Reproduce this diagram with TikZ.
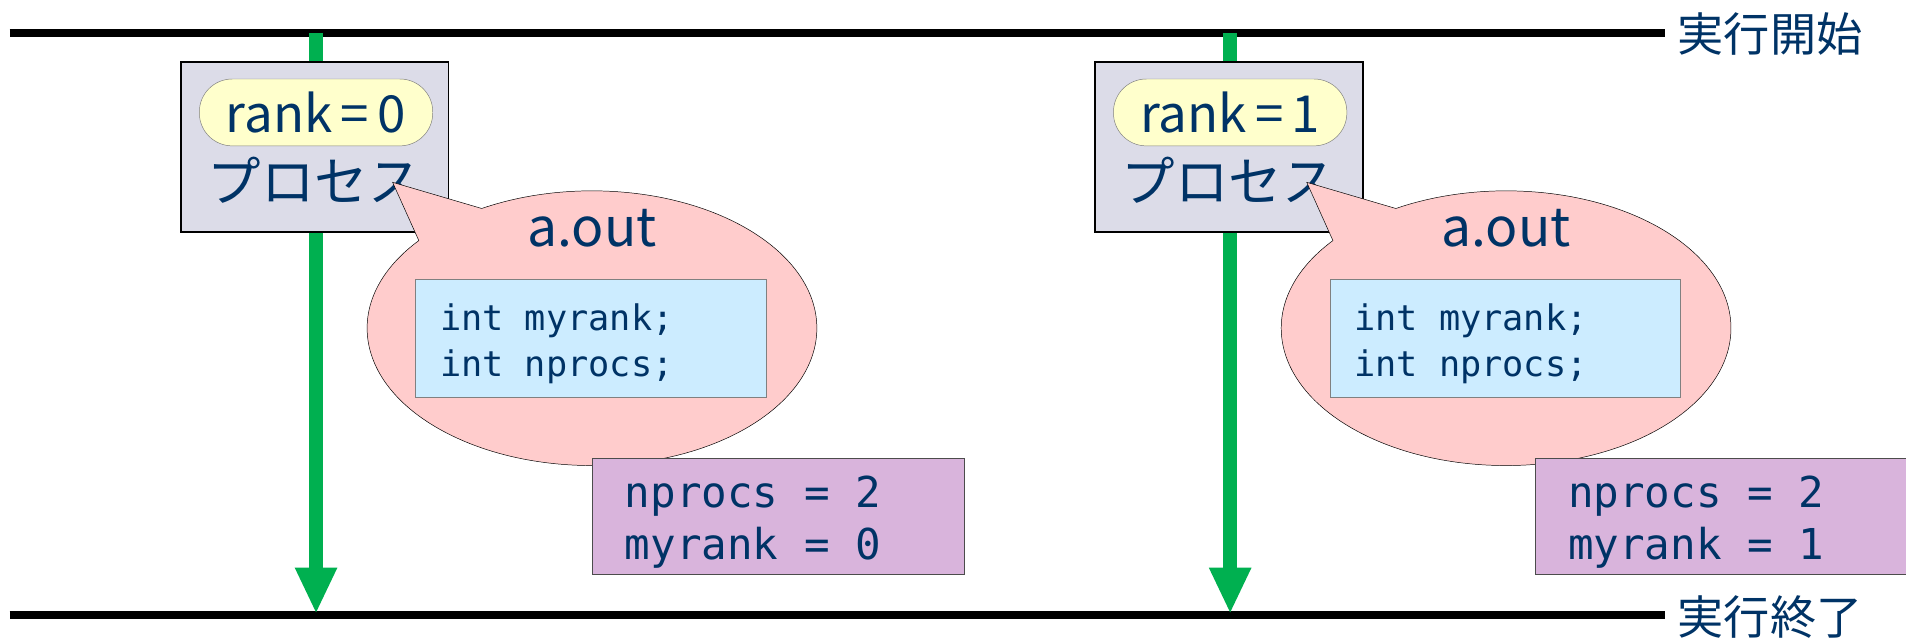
\documentclass[tikz,border=0pt]{standalone}
\usepackage{fontspec}
\setmainfont{Noto Sans CJK JP}
\setmonofont{DejaVu Sans Mono}
\usetikzlibrary{arrows.meta,shapes.callouts}
\definecolor{txtblue}{RGB}{0,51,102}
\definecolor{flowgreen}{RGB}{0,176,80}
\definecolor{procfill}{RGB}{220,220,232}
\definecolor{pillfill}{RGB}{255,255,204}
\definecolor{bubblefill}{RGB}{255,204,204}
\definecolor{codefill}{RGB}{204,236,255}
\definecolor{valfill}{RGB}{217,180,220}
% one monospaced blank
\newcommand{\msp}{\hphantom{0}}

\begin{document}
\begin{tikzpicture}[x=1pt,y=1pt,
    rail/.style={line width=7pt},
    flow/.style={draw=flowgreen,line width=11pt,-{Triangle[width=32pt,length=38pt]}},
    lbl/.style={text=txtblue,inner sep=0pt,font=\fontsize{44}{50}\selectfont},
    procbox/.style={draw,line width=1.5pt,fill=procfill,minimum width=220pt,minimum height=140pt},
    rankpill/.style={draw=gray,fill=pillfill,rounded corners=27pt,minimum width=192pt,minimum height=55pt,
        inner sep=0pt,text=txtblue,font=\fontsize{42}{48}\selectfont},
    bubble/.style={ellipse callout,draw,fill=bubblefill,minimum width=370pt,minimum height=226pt,
        inner sep=0pt,callout pointer arc=21},
    codebox/.style={draw=gray,fill=codefill,minimum width=288pt,minimum height=97pt,text width=248pt,
        inner xsep=20pt,align=left,text=txtblue,font=\ttfamily\fontsize{29}{38}\selectfont},
    valbox/.style={draw=black!70,fill=valfill,minimum width=306pt,minimum height=95pt,text width=252pt,
        inner xsep=27pt,align=left,text=txtblue,font=\ttfamily\fontsize{35}{43}\selectfont}]
    \useasboundingbox (0,0) rectangle (1568,-526);
    % start / end of execution
    \node[lbl,anchor=west,font=\fontsize{38}{44}\selectfont] (begin) at (1380,-28) {実行開始};
    \node[lbl,anchor=west,font=\fontsize{38}{44}\selectfont] (finish) at (1380,-508) {実行終了};
    \coordinate (l1) at (8,-27);
    \coordinate (l2) at (8,-506);
    \draw[rail] (l1) -- ([xshift=-10pt]l1 -| begin.west);
    \draw[rail] (l2) -- ([xshift=-10pt]l2 -| finish.west);
    % one process per rank
    \foreach \rk/\shiftp/\shiftv in {0/0/0,1/752/776}{
        \begin{scope}[xshift=\shiftp pt]
            \coordinate (s\rk) at (260,-27);
            \coordinate (e\rk) at (260,-505);
            \draw[flow] (s\rk) -- (e\rk);
            \node[procbox] (proc\rk) at (259,-121) {};
            \node[rankpill] (rank\rk) at (260,-92.5) {rank\,=\,\rk};
            \node[lbl] (pname\rk) at (259,-148) {プロセス};
            \coordinate (tip\rk) at (323,-150);
            \node[bubble,callout absolute pointer={(tip\rk)}] (aout\rk) at (487,-270) {};
            \node[lbl] (aname\rk) at (487,-188) {a.out};
            \node[codebox] (decl\rk) at (486,-278.5) {\rule{0pt}{30pt}int\msp myrank;\\int\msp nprocs;};
        \end{scope}
        \node[valbox] (val\rk) at (640+\shiftv,-424.5) {\rule{0pt}{36pt}nprocs\msp=\msp2\\myrank\msp=\msp\rk};
    }
\end{tikzpicture}
\end{document}
